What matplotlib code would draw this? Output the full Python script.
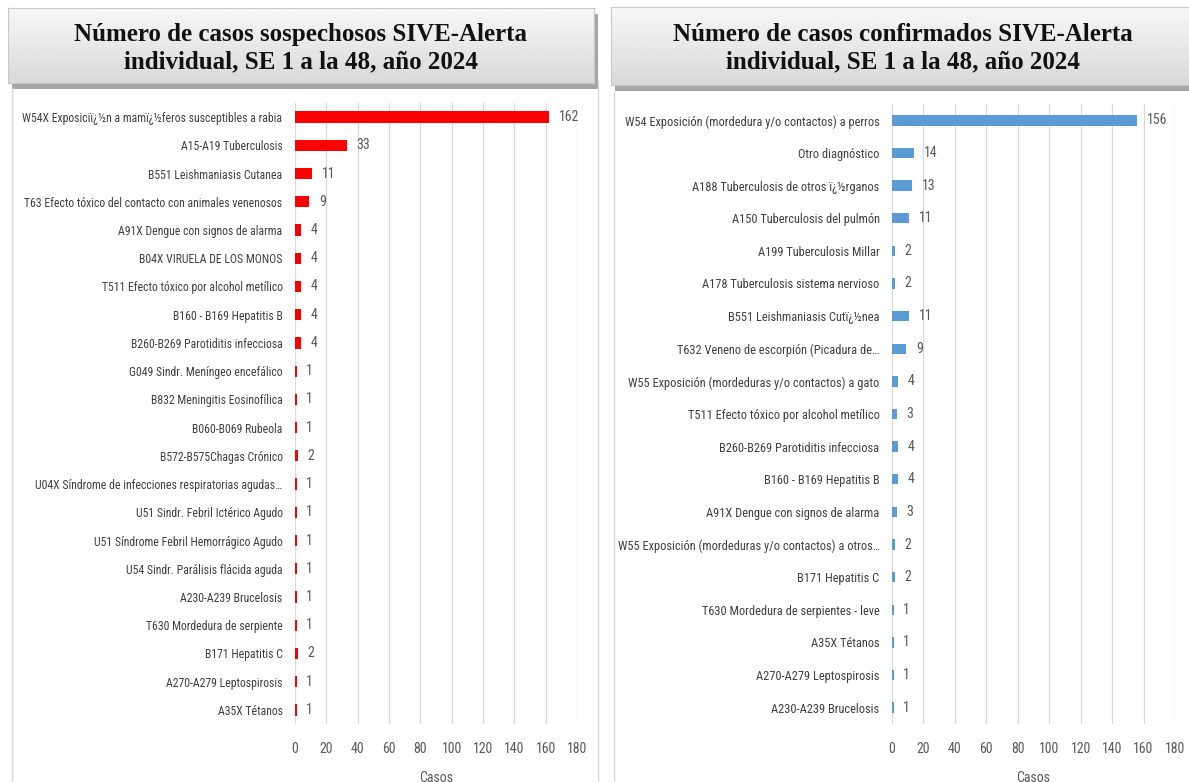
import numpy as np
import matplotlib
matplotlib.use("Agg")
import matplotlib.pyplot as plt

# --- data (left: suspected, right: confirmed) ---
sosp_labels = [
    "W54X Exposiciï¿½n a mamï¿½feros susceptibles a rabia",
    "A15-A19 Tuberculosis",
    "B551 Leishmaniasis Cutanea",
    "T63 Efecto tóxico del contacto con animales venenosos",
    "A91X Dengue con signos de alarma",
    "B04X VIRUELA DE LOS MONOS",
    "T511 Efecto tóxico por alcohol metílico",
    "B160 - B169 Hepatitis B",
    "B260-B269 Parotiditis infecciosa",
    "G049 Sindr. Meníngeo encefálico",
    "B832 Meningitis Eosinofílica",
    "B060-B069 Rubeola",
    "B572-B575Chagas Crónico",
    "U04X Síndrome de infecciones respiratorias agudas…",
    "U51 Sindr. Febril Ictérico Agudo",
    "U51 Síndrome Febril Hemorrágico Agudo",
    "U54 Sindr. Parálisis flácida aguda",
    "A230-A239 Brucelosis",
    "T630 Mordedura de serpiente",
    "B171 Hepatitis C",
    "A270-A279 Leptospirosis",
    "A35X Tétanos",
]
sosp_values = [162, 33, 11, 9, 4, 4, 4, 4, 4, 1, 1, 1, 2, 1, 1, 1, 1, 1, 1, 2, 1, 1]

conf_labels = [
    "W54 Exposición (mordedura y/o contactos) a perros",
    "Otro diagnóstico",
    "A188 Tuberculosis de otros ï¿½rganos",
    "A150 Tuberculosis del pulmón",
    "A199 Tuberculosis Millar",
    "A178 Tuberculosis sistema nervioso",
    "B551 Leishmaniasis Cutï¿½nea",
    "T632 Veneno de escorpión (Picadura de…",
    "W55 Exposición (mordeduras y/o contactos) a gato",
    "T511 Efecto tóxico por alcohol metílico",
    "B260-B269 Parotiditis infecciosa",
    "B160 - B169 Hepatitis B",
    "A91X Dengue con signos de alarma",
    "W55 Exposición (mordeduras y/o contactos) a otros…",
    "B171 Hepatitis C",
    "T630 Mordedura de serpientes - leve",
    "A35X Tétanos",
    "A270-A279 Leptospirosis",
    "A230-A239 Brucelosis",
]
conf_values = [156, 14, 13, 11, 2, 2, 11, 9, 4, 3, 4, 4, 3, 2, 2, 1, 1, 1, 1]

x_ticks = list(range(0, 181, 20))

W, H = 1189, 782
plt.rcParams["font.family"] = ["Liberation Sans Narrow", "Roboto Condensed",
                               "Liberation Sans", "DejaVu Sans"]
fig = plt.figure(figsize=(W / 100, H / 100), dpi=100)


def px_axes(x0, y0, x1, y1, **kw):
    return fig.add_axes([x0 / W, 1 - y1 / H, (x1 - x0) / W, (y1 - y0) / H], **kw)


def title_box(x0, y0, x1, y1, text):
    # drop shadow below / right of the box
    sh = px_axes(x0 + 4, y0 + 6, x1 + 4, y1 + 6)
    sh.set_facecolor("#a6a6a6")
    sh.set_xticks([])
    sh.set_yticks([])
    for s in sh.spines.values():
        s.set_visible(False)
    sh.set_zorder(1)

    ax = px_axes(x0, y0, x1, y1)
    ax.set_zorder(2)
    grad = np.linspace(0.97, 0.85, 100).reshape(-1, 1)
    ax.imshow(grad, aspect="auto", cmap="gray", vmin=0, vmax=1, extent=[0, 1, 0, 1])
    ax.set_xlim(0, 1)
    ax.set_ylim(0, 1)
    ax.set_xticks([])
    ax.set_yticks([])
    for s in ax.spines.values():
        s.set_color("#c8c8c8")
        s.set_linewidth(0.8)
    ax.text(0.5, 0.47, text, ha="center", va="center", fontsize=18,
            fontweight="bold", family=["Liberation Serif", "DejaVu Serif"],
            color="#111111", linespacing=1.25, transform=ax.transAxes)


def bar_panel(x0, x1, y0, y1, labels, values, color, bar_h, lab_size):
    ax = px_axes(x0, y0, x1, y1)
    n = len(labels)
    pos = np.arange(n)
    ax.barh(pos, values, height=bar_h, color=color, zorder=3)
    ax.set_ylim(n - 0.5, -0.5)
    ax.set_xlim(0, 180)
    ax.set_xticks(x_ticks)
    ax.set_yticks(pos)
    ax.set_yticklabels(labels, fontsize=lab_size, color="#404040")
    ax.tick_params(axis="y", length=0, pad=9)
    ax.tick_params(axis="x", length=0, pad=13, labelsize=10, labelcolor="#595959")
    ax.grid(axis="x", color="#d9d9d9", linewidth=0.9, zorder=0)
    for s in ax.spines.values():
        s.set_visible(False)
    for p, v in zip(pos, values):
        ax.annotate(str(v), (v, p), xytext=(7, 0), textcoords="offset points",
                    va="center", ha="left", fontsize=10, color="#595959")
    ax.set_xlabel("Casos", fontsize=10, color="#595959", labelpad=11)
    return ax


# panel borders
for xx, ytop in [(12, 88), (598, 80), (614, 92)]:
    fig.add_artist(plt.Line2D([xx / W, xx / W], [1 - ytop / H, 0],
                              transform=fig.transFigure, color="#d9d9d9", lw=1))

title_box(8, 8, 594, 83, "Número de casos sospechosos SIVE-Alerta\nindividual, SE 1 a la 48, año 2024")
title_box(611, 7, 1195, 85, "Número de casos confirmados SIVE-Alerta\nindividual, SE 1 a la 48, año 2024")

bar_panel(295, 577, 103, 724, sosp_labels, sosp_values, "#ff0000", 0.4, 8.5)
bar_panel(892, 1175, 104, 724, conf_labels, conf_values, "#5b9bd5", 0.32, 8.9)

fig.savefig("out.png", dpi=100)
